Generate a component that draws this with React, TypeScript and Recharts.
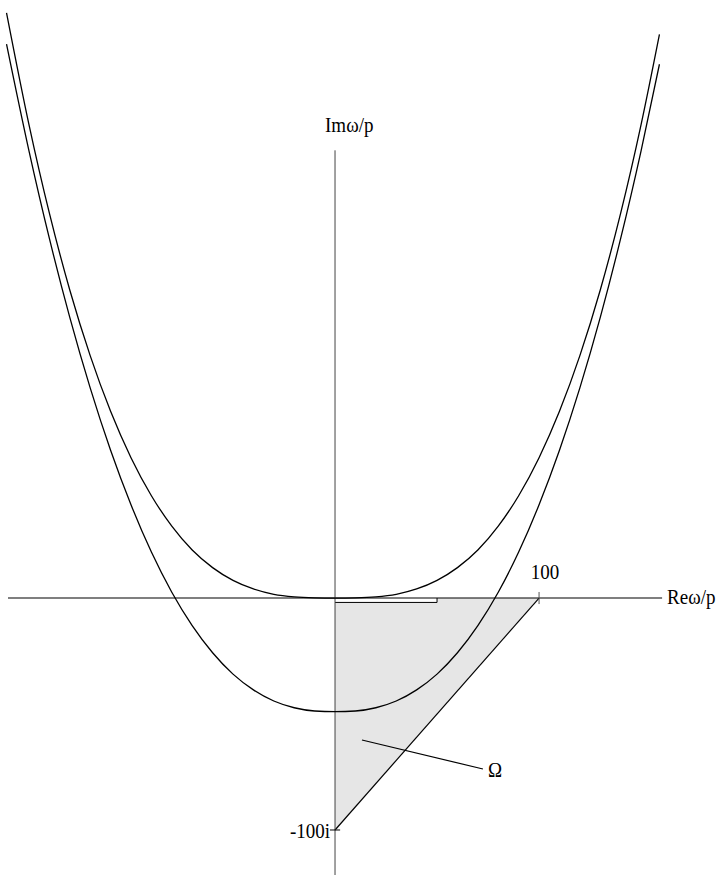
import { ComposedChart, Line, Area, XAxis, YAxis, ReferenceLine, ReferenceDot } from "recharts";

// x values shared by both curves (units of ω/p)
const xs = [-161, -150, -140, -130, -120, -110, -100, -90, -80, -70, -60, -50, -40, -30, -20, -10, 0, 10, 20, 30, 40, 50, 60, 70, 80, 90, 100, 110, 120, 130, 140, 150, 159];

// upper curve, touching the origin
const upperY = [252.3, 204.1, 165.9, 132.8, 104.5, 80.5, 60.5, 44.1, 31.0, 20.7, 13.1, 7.6, 3.9, 1.6, 0.5, 0.1, 0, 0.1, 0.5, 1.6, 3.9, 7.6, 13.1, 20.7, 31.0, 44.1, 60.5, 80.5, 104.5, 132.8, 165.9, 204.1, 243.0];

// lower curve, minimum below the real axis
const lowerY = [238.8, 192.8, 155.0, 121.0, 90.6, 63.7, 40.2, 19.8, 2.5, -11.9, -23.6, -32.8, -39.6, -44.4, -47.3, -48.7, -49, -48.7, -47.3, -44.4, -39.6, -32.8, -23.6, -11.9, 2.5, 19.8, 40.2, 63.7, 90.6, 121.0, 155.0, 192.8, 230.1];

// region Ω: triangle 0, 100, -100i
const omegaX = [0, 100];
const omegaY = [-100, 0];

// small strip under the real axis
const stripX = [0, 50];
const stripY = [-1.9, -1.9];

const upper = xs.map((x, i) => ({ x, y: upperY[i] }));
const lower = xs.map((x, i) => ({ x, y: lowerY[i] }));
const omega = omegaX.map((x, i) => ({ x, y: omegaY[i] }));
const strip = stripX.map((x, i) => ({ x, y: stripY[i] }));

const font = "'Liberation Serif', 'Times New Roman', serif";

const textAt = (value: string, dx: number, dy: number, anchor: "start" | "middle" | "end" = "start") =>
  (props: any) => {
    const vb = props.viewBox || {};
    const x = (vb.x ?? 0) + dx;
    const y = (vb.y ?? 0) + dy;
    return (
      <text x={0} y={0} transform={`translate(${x},${y}) scale(1,1.15)`} textAnchor={anchor} fontFamily={font} fontSize={19} fill="#000">
        {value}
      </text>
    );
  };

export default function App() {
  return (
    <div style={{ position: "absolute", left: 0, top: 0, background: "#fff" }}>
      <ComposedChart width={718} height={875} margin={{ top: 0, right: 0, bottom: 0, left: 0 }}>
        <XAxis type="number" dataKey="x" domain={[-164.2, 187.7]} allowDataOverflow hide />
        <YAxis type="number" dataKey="y" domain={[-119.4, 257.8]} allowDataOverflow hide />

        <Area data={omega} dataKey="y" type="linear" baseValue={0} fill="#e6e6e6" fillOpacity={1} stroke="#000" strokeWidth={1.2} isAnimationActive={false} />
        <Area data={strip} dataKey="y" type="linear" baseValue={0} fill="#fff" fillOpacity={1} stroke="#000" strokeWidth={1} isAnimationActive={false} />

        <ReferenceLine segment={[{ x: 50, y: 0 }, { x: 50, y: -1.9 }]} stroke="#000" strokeWidth={1} />
        <ReferenceLine segment={[{ x: -160.3, y: 0 }, { x: 160.3, y: 0 }]} stroke="#000" strokeWidth={1.2} />
        <ReferenceLine segment={[{ x: 0, y: 193 }, { x: 0, y: -119.4 }]} stroke="#444" strokeWidth={1} />
        <ReferenceLine segment={[{ x: 100, y: 2.6 }, { x: 100, y: -2.6 }]} stroke="#555" strokeWidth={1} />
        <ReferenceLine segment={[{ x: -2.5, y: -100 }, { x: 2.5, y: -100 }]} stroke="#000" strokeWidth={1} />
        <ReferenceLine segment={[{ x: 13.2, y: -61.2 }, { x: 72.5, y: -73.7 }]} stroke="#000" strokeWidth={1.2} />

        <Line data={upper} dataKey="y" type="monotone" stroke="#000" strokeWidth={1.3} dot={false} activeDot={false} isAnimationActive={false} />
        <Line data={lower} dataKey="y" type="monotone" stroke="#000" strokeWidth={1.3} dot={false} activeDot={false} isAnimationActive={false} />

        <ReferenceDot x={0} y={193} r={0} fill="none" stroke="none" label={textAt("Imω/p", -10, -18)} />
        <ReferenceDot x={160.3} y={0} r={0} fill="none" stroke="none" label={textAt("Reω/p", 5, 6)} />
        <ReferenceDot x={100} y={0} r={0} fill="none" stroke="none" label={textAt("100", 6, -19, "middle")} />
        <ReferenceDot x={0} y={-100} r={0} fill="none" stroke="none" label={textAt("-100i", -5, 8, "end")} />
        <ReferenceDot x={72.5} y={-73.7} r={0} fill="none" stroke="none" label={textAt("Ω", 5, 8)} />
      </ComposedChart>
    </div>
  );
}
